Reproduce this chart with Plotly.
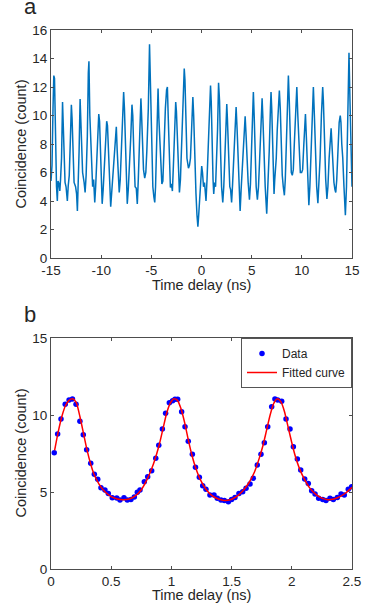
import plotly.graph_objects as go

# ---------------- Panel a: coincidence vs time delay (-15..15 ns) ----------------
a_time = [
    -15.0, -14.9, -14.8, -14.72, -14.65, -14.55, -14.45, -14.37, -14.3, -14.2, -14.12, -14.05,
    -13.95, -13.85, -13.78, -13.7, -13.6, -13.5, -13.37, -13.28, -13.18, -13.06, -12.97, -12.9,
    -12.8, -12.7, -12.55, -12.45, -12.37, -12.3, -12.2, -12.1, -12.03, -11.95, -11.85, -11.7,
    -11.6, -11.5, -11.38, -11.28, -11.22, -11.13, -11.0, -10.85, -10.75, -10.64, -10.55, -10.45,
    -10.32, -10.24, -10.16, -10.05, -9.98, -9.9, -9.8, -9.7, -9.55, -9.45, -9.37, -9.28,
    -9.15, -9.05, -8.95, -8.8, -8.6, -8.49, -8.4, -8.3, -8.2, -8.1, -8.0, -7.85,
    -7.76, -7.68, -7.55, -7.4, -7.3, -7.2, -7.05, -6.93, -6.85, -6.75, -6.62, -6.5,
    -6.4, -6.3, -6.2, -6.1, -6.04, -5.98, -5.88, -5.78, -5.66, -5.55, -5.45, -5.3,
    -5.18, -5.08, -4.95, -4.85, -4.75, -4.66, -4.58, -4.48, -4.38, -4.33, -4.25, -4.15,
    -4.05, -3.95, -3.85, -3.72, -3.6, -3.48, -3.4, -3.32, -3.22, -3.1, -3.0, -2.9,
    -2.8, -2.68, -2.57, -2.5, -2.4, -2.3, -2.2, -2.1, -2.0, -1.85, -1.72, -1.65,
    -1.55, -1.45, -1.3, -1.2, -1.1, -0.95, -0.86, -0.78, -0.68, -0.55, -0.45, -0.36,
    -0.28, -0.15, -0.05, 0.02, 0.1, 0.2, 0.3, 0.38, 0.45, 0.55, 0.7, 0.8,
    0.9, 0.97, 1.05, 1.15, 1.22, 1.3, 1.4, 1.5, 1.6, 1.7, 1.8, 1.9,
    2.0, 2.12, 2.22, 2.35, 2.45, 2.52, 2.58, 2.7, 2.82, 2.9, 3.0, 3.1,
    3.22, 3.35, 3.45, 3.55, 3.65, 3.75, 3.85, 3.95, 4.05, 4.2, 4.35, 4.45,
    4.55, 4.65, 4.78, 4.88, 4.98, 5.1, 5.17, 5.25, 5.35, 5.45, 5.57, 5.68,
    5.8, 5.95, 6.04, 6.12, 6.22, 6.35, 6.5, 6.6, 6.75, 6.87, 6.93, 7.0,
    7.1, 7.23, 7.3, 7.45, 7.55, 7.68, 7.76, 7.85, 7.95, 8.05, 8.15, 8.26,
    8.35, 8.48, 8.6, 8.66, 8.75, 8.85, 8.95, 9.05, 9.15, 9.25, 9.38, 9.45,
    9.5, 9.6, 9.72, 9.85, 9.98, 10.08, 10.2, 10.3, 10.36, 10.45, 10.55, 10.62,
    10.7, 10.8, 10.92, 11.05, 11.15, 11.25, 11.35, 11.48, 11.6, 11.7, 11.82, 11.95,
    12.08, 12.15, 12.25, 12.38, 12.5, 12.6, 12.72, 12.85, 12.92, 13.0, 13.1, 13.2,
    13.3, 13.38, 13.48, 13.6, 13.72, 13.83, 13.9, 13.98, 14.08, 14.2, 14.34, 14.45,
    14.55, 14.65, 14.7, 14.8, 14.9, 15.0,
]
a_count = [
    5.4, 6.5, 10.5, 12.8, 12.6, 8.0, 5.0, 4.0, 5.4, 5.2, 4.7, 5.5,
    7.0, 10.95, 9.5, 7.0, 5.3, 5.0, 4.0, 5.1, 5.8, 8.5, 10.76, 9.8,
    7.5, 5.3, 5.0, 4.5, 3.3, 4.6, 7.5, 11.15, 9.5, 7.8, 6.0, 5.3,
    4.6, 5.8, 8.5, 13.0, 13.8, 10.0, 7.0, 5.0, 5.5, 3.9, 5.0, 6.8,
    9.0, 10.1, 9.6, 6.5, 5.0, 3.8, 4.8, 6.5, 8.5, 9.6, 9.3, 7.5,
    5.5, 3.6, 4.6, 6.0, 8.0, 9.2, 7.5, 5.5, 4.6, 5.5, 7.0, 10.0,
    11.65, 10.5, 7.0, 3.8, 4.8, 6.0, 8.5, 10.76, 10.0, 7.5, 5.0, 4.9,
    3.8, 5.5, 8.0, 10.9, 11.2, 10.2, 8.0, 6.2, 5.6, 6.0, 7.5, 10.5,
    15.0, 11.5, 7.5, 5.0, 4.3, 3.9, 5.0, 8.0, 11.0, 11.9, 9.8, 8.0,
    6.0, 5.2, 5.4, 8.5, 10.5, 11.8, 12.0, 10.0, 7.5, 4.95, 5.2, 4.7,
    6.5, 9.0, 10.95, 10.3, 8.0, 6.0, 4.6, 5.5, 7.5, 10.5, 13.3, 12.5,
    9.0, 7.0, 6.3, 6.5, 7.0, 10.0, 11.3, 10.0, 7.0, 4.5, 3.0, 2.2,
    3.0, 5.0, 6.0, 6.45, 6.0, 5.0, 5.3, 4.6, 4.0, 5.5, 8.0, 10.5,
    12.1, 11.0, 8.0, 5.5, 4.5, 5.3, 5.0, 6.5, 9.0, 12.3, 11.0, 7.5,
    5.0, 3.9, 5.0, 7.5, 9.5, 10.8, 9.8, 7.0, 5.0, 4.8, 3.9, 5.2,
    7.5, 9.5, 10.6, 9.0, 7.0, 5.0, 3.3, 4.8, 6.0, 8.0, 9.95, 8.5,
    6.5, 5.3, 4.1, 5.2, 7.5, 10.5, 11.65, 10.0, 7.0, 5.0, 4.1, 5.0,
    7.0, 10.0, 11.2, 9.8, 7.5, 5.0, 3.1, 4.7, 7.5, 10.5, 11.65, 10.5,
    7.5, 4.5, 5.5, 7.0, 9.0, 11.0, 11.75, 10.5, 7.5, 5.8, 5.0, 4.4,
    5.5, 8.5, 11.5, 12.8, 11.0, 8.0, 6.0, 5.8, 6.2, 8.0, 10.5, 11.5,
    12.0, 10.0, 7.5, 6.0, 6.0, 6.2, 8.0, 9.5, 10.1, 8.5, 6.0, 4.5,
    3.7, 5.0, 7.5, 10.5, 12.0, 10.0, 7.5, 5.0, 3.85, 5.0, 7.0, 10.0,
    12.0, 11.0, 8.0, 5.5, 4.15, 5.0, 7.0, 8.5, 9.1, 8.0, 6.5, 5.3,
    4.8, 4.6, 5.5, 7.5, 9.5, 10.0, 9.5, 8.0, 7.0, 5.0, 3.0, 5.0,
    9.0, 13.5, 14.4, 11.0, 7.0, 5.0,
]

# ---------------- Panel b: zoomed data and fitted curve (0..2.5 ns) ----------------
b_time = [
    0.027, 0.055, 0.083, 0.118, 0.150, 0.178, 0.208, 0.240, 0.268, 0.296,
    0.330, 0.360, 0.388, 0.415, 0.448, 0.476, 0.509, 0.546, 0.573, 0.606,
    0.634, 0.664, 0.692, 0.717, 0.739, 0.775, 0.803, 0.836, 0.870, 0.895,
    0.925, 0.952, 0.983, 1.010, 1.030, 1.052, 1.085, 1.113, 1.140, 1.174,
    1.200, 1.232, 1.260, 1.287, 1.320, 1.354, 1.381, 1.412, 1.440, 1.473,
    1.500, 1.528, 1.561, 1.592, 1.620, 1.653, 1.680, 1.713, 1.744, 1.772,
    1.800, 1.833, 1.860, 1.883, 1.916, 1.952, 1.985, 2.013, 2.046, 2.074,
    2.107, 2.137, 2.165, 2.193, 2.223, 2.257, 2.284, 2.317, 2.345, 2.378,
    2.409, 2.436, 2.469, 2.497,
]
b_count = [
    7.55, 8.77, 9.74, 10.70, 10.97, 11.04, 10.69, 9.60, 8.72, 7.75,
    6.86, 6.15, 5.82, 5.28, 5.13, 4.91, 4.63, 4.61, 4.48, 4.63,
    4.48, 4.52, 4.67, 4.98, 5.13, 5.67, 5.99, 6.38, 7.19, 8.04,
    9.09, 10.11, 10.80, 10.93, 11.02, 11.02, 10.21, 9.24, 8.30, 7.45,
    6.60, 5.95, 5.41, 5.18, 4.80, 4.80, 4.59, 4.48, 4.44, 4.37,
    4.52, 4.65, 4.91, 5.02, 5.24, 5.52, 5.89, 6.75, 7.45, 8.20,
    9.24, 10.54, 11.04, 10.97, 10.90, 9.74, 9.09, 7.94, 7.14, 6.43,
    5.84, 5.56, 5.08, 4.87, 4.59, 4.52, 4.44, 4.59, 4.52, 4.65,
    4.87, 4.80, 5.18, 5.34,
]
fit_time = [
    0.03, 0.06, 0.09, 0.12, 0.15, 0.18, 0.21, 0.24, 0.27, 0.30,
    0.33, 0.36, 0.40, 0.45, 0.50, 0.55, 0.60, 0.65, 0.70, 0.75,
    0.80, 0.85, 0.90, 0.93, 0.96, 0.99, 1.02, 1.05, 1.08, 1.11,
    1.14, 1.17, 1.20, 1.24, 1.29, 1.34, 1.39, 1.44, 1.49, 1.54,
    1.59, 1.64, 1.69, 1.73, 1.76, 1.79, 1.82, 1.85, 1.88, 1.91,
    1.94, 1.97, 2.00, 2.03, 2.06, 2.10, 2.15, 2.20, 2.25, 2.30,
    2.35, 2.40, 2.45, 2.50,
]
fit_count = [
    7.7, 8.9, 9.9, 10.6, 10.95, 11.05, 10.8, 9.9, 8.8, 7.7,
    6.8, 6.1, 5.5, 5.0, 4.7, 4.55, 4.5, 4.55, 4.75, 5.15,
    5.85, 6.8, 8.1, 9.1, 10.1, 10.75, 11.05, 10.95, 10.4, 9.5,
    8.4, 7.4, 6.6, 5.8, 5.15, 4.75, 4.55, 4.45, 4.5, 4.7,
    5.05, 5.55, 6.3, 7.2, 8.0, 9.0, 10.0, 10.75, 11.05, 10.85,
    10.2, 9.2, 8.2, 7.3, 6.6, 5.9, 5.25, 4.85, 4.6, 4.5,
    4.55, 4.7, 4.95, 5.3,
]

a_xticks = [-15, -10, -5, 0, 5, 10, 15]
a_xtick_text = ["-15", "-10", "-5", "0", "5", "10", "15"]
a_yticks = [0, 2, 4, 6, 8, 10, 12, 14, 16]
b_xticks = [0, 0.5, 1, 1.5, 2, 2.5]
b_xtick_text = ["0", "0.5", "1", "1.5", "2", "2.5"]
b_yticks = [0, 5, 10, 15]

W, H = 390, 605
FONT = "Liberation Sans, Arial, Helvetica, sans-serif"
AX = "#4d4d4d"
TXT = "#262626"

fig = go.Figure()
fig.add_trace(go.Scatter(x=a_time, y=a_count, mode="lines",
                         line=dict(color="#0072BD", width=1.5),
                         showlegend=False, xaxis="x", yaxis="y"))
fig.add_trace(go.Scatter(x=b_time, y=b_count, mode="markers", name="Data",
                         marker=dict(color="#0000FF", size=5.5),
                         xaxis="x2", yaxis="y2"))
fig.add_trace(go.Scatter(x=fit_time, y=fit_count, mode="lines", name="Fitted curve",
                         line=dict(color="#FF0000", width=1.5, shape="spline", smoothing=0.6),
                         xaxis="x2", yaxis="y2"))

def ax(**kw):
    d = dict(showline=True, linecolor=AX, linewidth=1, mirror="ticks",
             ticks="inside", ticklen=3, tickcolor=AX, tickwidth=1,
             showgrid=False, zeroline=False, automargin=False,
             tickfont=dict(family=FONT, size=13.5, color=TXT))
    d.update(kw)
    return d

x0, x1 = 51 / W, 352 / W
fig.update_layout(
    width=W, height=H, margin=dict(l=0, r=0, t=0, b=0, autoexpand=False),
    paper_bgcolor="white", plot_bgcolor="white",
    xaxis=ax(domain=[x0, x1], range=[-15, 15], tickvals=a_xticks, ticktext=a_xtick_text, anchor="y"),
    yaxis=ax(domain=[(H - 258) / H, (H - 30) / H], range=[0, 16], tickvals=a_yticks, anchor="x"),
    xaxis2=ax(domain=[x0, x1], range=[0, 2.5], tickvals=b_xticks, ticktext=b_xtick_text, anchor="y2"),
    yaxis2=ax(domain=[(H - 569) / H, (H - 338) / H], range=[0, 15], tickvals=b_yticks, anchor="x2"),
    legend=dict(x=x1, xanchor="right", y=(H - 338) / H, yanchor="top",
                bgcolor="white", bordercolor="#555555", borderwidth=1,
                font=dict(family=FONT, size=12, color=TXT),
                tracegroupgap=0, itemwidth=30),
    showlegend=True,
)

ann = [
    dict(text="a", x=22 / W, y=(H - 7) / H, xanchor="left", yanchor="middle", font=dict(size=22)),
    dict(text="b", x=22 / W, y=(H - 314) / H, xanchor="left", yanchor="middle", font=dict(size=22)),
    dict(text="Time delay (ns)", x=(x0 + x1) / 2, y=(H - 285) / H, xanchor="center", yanchor="middle",
         font=dict(size=14.5)),
    dict(text="Time delay (ns)", x=(x0 + x1) / 2, y=(H - 595) / H, xanchor="center", yanchor="middle",
         font=dict(size=14.5)),
    dict(text="Coincidence (count)", x=20.5 / W, y=(H - 144) / H, xanchor="center", yanchor="middle",
         textangle=-90, font=dict(size=14.5)),
    dict(text="Coincidence (count)", x=20.5 / W, y=(H - 453) / H, xanchor="center", yanchor="middle",
         textangle=-90, font=dict(size=14.5)),
]
for a in ann:
    a.update(xref="paper", yref="paper", showarrow=False)
    a["font"].update(family=FONT, color=TXT)
fig.update_layout(annotations=ann)

fig.write_html(
    "out.html",
    config={"displayModeBar": False, "staticPlot": True},
    post_script="document.body.style.margin='0';document.body.style.padding='0';"
                "document.body.style.overflow='hidden';",
)
